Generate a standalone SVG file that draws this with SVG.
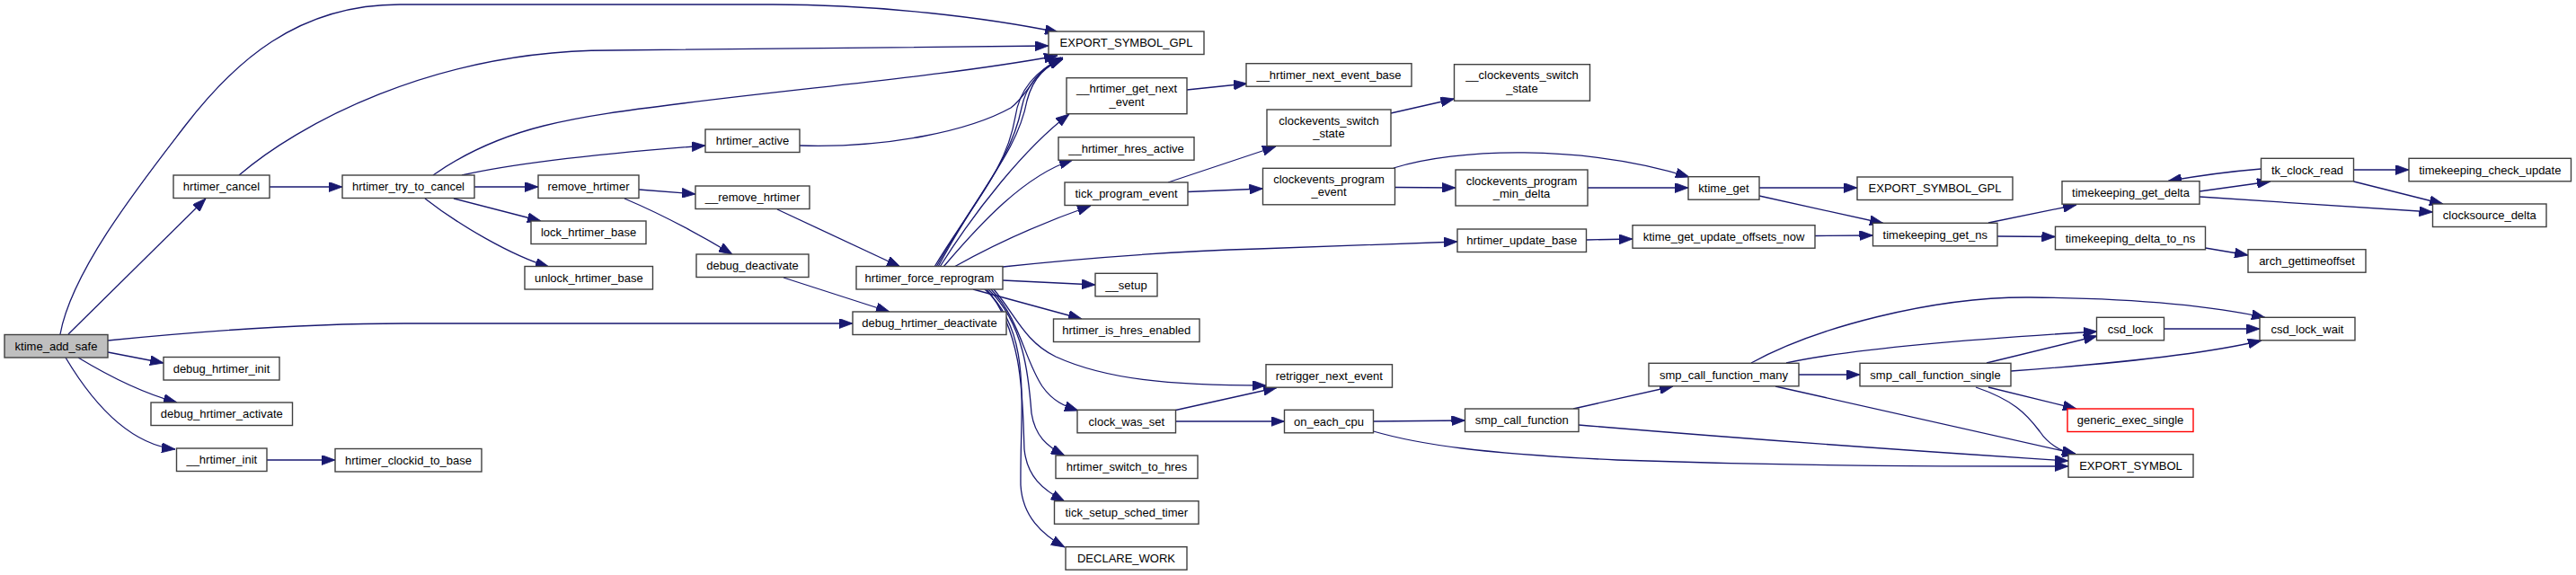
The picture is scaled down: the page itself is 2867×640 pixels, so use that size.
<svg xmlns="http://www.w3.org/2000/svg" width="2867" height="640" viewBox="0 0 2867 640">
<defs>
<style>
.node rect{fill:#ffffff;stroke:#404040;stroke-width:1.4}
.node text{font-family:"Liberation Sans",Arial,Helvetica,sans-serif;font-size:13px;text-anchor:middle;fill:#000000}
#n_ktime_add_safe rect{fill:#bfbfbf}
#n_generic_exec_single rect{stroke:#ff0000}
.edges path{fill:none;stroke:#191970;stroke-width:1.3;marker-end:url(#ah)}
</style>
<marker id="ah" viewBox="0 0 15 11" refX="15" refY="5.5" markerWidth="15" markerHeight="11" markerUnits="userSpaceOnUse" orient="auto">
<path d="M0,0 L15,5.5 L0,11 z" fill="#191970" stroke="#191970" stroke-width="0.8"/>
</marker>
</defs>
<rect x="0" y="0" width="2867" height="640" fill="#ffffff"/>
<g id="edges" class="edges">
<path d="M67,372 C80,300 160,200 206,140 C260,70 330,5 445,5 L860,5 C980,5 1100,20 1178,36"/>
<path d="M76,372 L229,221"/>
<path d="M120,379 C250,366 350,360 450,360 L949,360"/>
<path d="M120,392 L182,404"/>
<path d="M87,398 C120,418 160,438 197,448"/>
<path d="M73,398 C110,460 150,495 195,500"/>
<path d="M297,512 L373,512"/>
<path d="M300,208 L381,208"/>
<path d="M266,195 C330,140 480,56 680,56 C900,55 1050,52 1167,51"/>
<path d="M482,195 C560,140 640,130 760,115 C900,97 1050,85 1177,62"/>
<path d="M514,195 C580,180 680,170 785,162"/>
<path d="M528,208 L599,208"/>
<path d="M505,221 L602,246"/>
<path d="M473,221 C510,250 570,285 611,297"/>
<path d="M890,162 C990,165 1080,145 1125,120 C1145,105 1150,80 1181,64"/>
<path d="M711,211 L774,216"/>
<path d="M695,221 C740,240 780,262 815,283"/>
<path d="M865,233 L1002,297"/>
<path d="M872,309 L990,347"/>
<path d="M1040,297 C1080,230 1120,190 1130,130 C1135,95 1160,75 1183,64"/>
<path d="M1042,297 C1085,220 1125,180 1137,120 C1143,90 1163,74 1183,65"/>
<path d="M1044,297 C1090,210 1132,170 1143,112 C1150,85 1165,73 1183,66"/>
<path d="M1046,297 C1085,235 1140,165 1190,127"/>
<path d="M1050,297 C1090,250 1140,195 1194,178"/>
<path d="M1062,297 C1110,270 1160,248 1214,229"/>
<path d="M1116,297 C1200,288 1300,280 1400,277 L1622,269"/>
<path d="M1116,312 L1219,317"/>
<path d="M1083,322 L1204,355"/>
<path d="M1106,322 C1130,350 1140,380 1175,397 C1230,422 1300,429 1409,429"/>
<path d="M1103,322 C1135,355 1140,400 1160,430 C1172,447 1185,452 1200,457"/>
<path d="M1100,322 C1140,360 1145,420 1148,460 C1152,485 1165,497 1185,507"/>
<path d="M1098,322 C1140,370 1138,450 1140,500 C1143,530 1160,545 1185,558"/>
<path d="M1096,322 C1150,370 1135,450 1136,540 C1138,575 1160,595 1185,609"/>
<path d="M1321,100 L1388,93"/>
<path d="M1300,203 L1420,163"/>
<path d="M1322,213.5 L1405.5,210"/>
<path d="M1548,126 L1618.5,110"/>
<path d="M1552.5,208.5 L1620,209"/>
<path d="M1551,187 C1620,165 1760,160 1880,197"/>
<path d="M1767,209 L1879,209"/>
<path d="M1958,209 L2067,209"/>
<path d="M1958,218 L2096,248.5"/>
<path d="M1765.5,267 L1817,266"/>
<path d="M2020,262.5 L2084.5,262"/>
<path d="M2213,248 L2311,228"/>
<path d="M2223,263 L2287.5,263.5"/>
<path d="M2454.5,276 L2502,284"/>
<path d="M2448,213 L2527,202"/>
<path d="M2516.5,188 C2480,191 2450,195 2413,201.5"/>
<path d="M2619.5,189 L2681,189"/>
<path d="M2619.5,202 L2719,227"/>
<path d="M2448,219 C2550,226 2650,233 2707.5,236"/>
<path d="M1308.5,456.5 L1421,431.5"/>
<path d="M1308.5,469 L1429.5,469"/>
<path d="M1528.5,469 L1630.5,468"/>
<path d="M1528.5,480 C1580,495 1650,505 1800,512 C2000,519 2150,519 2302,519"/>
<path d="M1751,455 L1862,430"/>
<path d="M1757,473 C1900,485 2100,500 2302,513"/>
<path d="M2002,417 L2070,417"/>
<path d="M1949,404 C2020,365 2150,330 2260,331 C2380,332 2460,340 2521,353.5"/>
<path d="M1988,404 C2060,388 2200,377 2334,369"/>
<path d="M1976,430 L2310,505"/>
<path d="M2211,404 L2334,374"/>
<path d="M2238,413 C2350,405 2450,395 2517,379"/>
<path d="M2213,431 L2311,455"/>
<path d="M2199,431 C2240,445 2255,460 2270,480 C2280,495 2295,503 2311,506"/>
<path d="M2408.5,366 L2515,366"/>
</g>
<g id="n_ktime_add_safe" class="node"><rect x="5" y="372.5" width="115" height="25.5"/><text x="62.5" y="389.8">ktime_add_safe</text></g>
<g id="n_hrtimer_cancel" class="node"><rect x="193" y="195" width="107" height="25.5"/><text x="246.5" y="212.3">hrtimer_cancel</text></g>
<g id="n_hrtimer_try_to_cancel" class="node"><rect x="381" y="195" width="147" height="25.5"/><text x="454.5" y="212.3">hrtimer_try_to_cancel</text></g>
<g id="n_remove_hrtimer" class="node"><rect x="599" y="195" width="112" height="25.5"/><text x="655" y="212.3">remove_hrtimer</text></g>
<g id="n_lock_hrtimer_base" class="node"><rect x="591" y="246" width="128" height="25.5"/><text x="655" y="263.3">lock_hrtimer_base</text></g>
<g id="n_unlock_hrtimer_base" class="node"><rect x="584" y="296.5" width="142.5" height="25.5"/><text x="655.3" y="313.8">unlock_hrtimer_base</text></g>
<g id="n_debug_hrtimer_init" class="node"><rect x="182" y="397.5" width="129" height="25.5"/><text x="246.5" y="414.8">debug_hrtimer_init</text></g>
<g id="n_debug_hrtimer_activate" class="node"><rect x="168" y="448" width="157.5" height="25.5"/><text x="246.8" y="465.3">debug_hrtimer_activate</text></g>
<g id="n___hrtimer_init" class="node"><rect x="196.5" y="499" width="100.5" height="25.5"/><text x="246.8" y="516.3">__hrtimer_init</text></g>
<g id="n_hrtimer_clockid_to_base" class="node"><rect x="373" y="499.5" width="163" height="25.5"/><text x="454.5" y="516.8">hrtimer_clockid_to_base</text></g>
<g id="n_export_symbol_gpl" class="node"><rect x="1167" y="35" width="173" height="25.5"/><text x="1253.5" y="52.3">EXPORT_SYMBOL_GPL</text></g>
<g id="n_hrtimer_active" class="node"><rect x="785" y="144" width="105" height="25.5"/><text x="837.5" y="161.3">hrtimer_active</text></g>
<g id="n___remove_hrtimer" class="node"><rect x="774" y="207" width="127" height="25.5"/><text x="837.5" y="224.3">__remove_hrtimer</text></g>
<g id="n_debug_deactivate" class="node"><rect x="775" y="283" width="125" height="25.5"/><text x="837.5" y="300.3">debug_deactivate</text></g>
<g id="n_hrtimer_force_reprogram" class="node"><rect x="953" y="296.5" width="163" height="25.5"/><text x="1034.5" y="313.8">hrtimer_force_reprogram</text></g>
<g id="n_debug_hrtimer_deactivate" class="node"><rect x="949" y="347" width="171" height="25.5"/><text x="1034.5" y="364.3">debug_hrtimer_deactivate</text></g>
<g id="n___hrtimer_get_next_event" class="node"><rect x="1187" y="86.7" width="134" height="40"/><text x="1254" y="103.2">__hrtimer_get_next</text><text x="1254" y="117.7">_event</text></g>
<g id="n___hrtimer_hres_active" class="node"><rect x="1178" y="152.7" width="151" height="25.5"/><text x="1253.5" y="170">__hrtimer_hres_active</text></g>
<g id="n_tick_program_event" class="node"><rect x="1185" y="203" width="137" height="25.5"/><text x="1253.5" y="220.3">tick_program_event</text></g>
<g id="n___setup" class="node"><rect x="1219" y="304.3" width="69" height="25.5"/><text x="1253.5" y="321.6">__setup</text></g>
<g id="n_hrtimer_is_hres_enabled" class="node"><rect x="1172.5" y="355" width="162.5" height="25.5"/><text x="1253.8" y="372.3">hrtimer_is_hres_enabled</text></g>
<g id="n_clock_was_set" class="node"><rect x="1199" y="456.3" width="109.5" height="25.5"/><text x="1253.8" y="473.6">clock_was_set</text></g>
<g id="n_hrtimer_switch_to_hres" class="node"><rect x="1175" y="507" width="158" height="25.5"/><text x="1254" y="524.3">hrtimer_switch_to_hres</text></g>
<g id="n_tick_setup_sched_timer" class="node"><rect x="1173.5" y="557.7" width="160.5" height="25.5"/><text x="1253.8" y="575">tick_setup_sched_timer</text></g>
<g id="n_declare_work" class="node"><rect x="1186" y="608.7" width="135" height="25.5"/><text x="1253.5" y="626">DECLARE_WORK</text></g>
<g id="n___hrtimer_next_event_base" class="node"><rect x="1387" y="70.7" width="184" height="25.5"/><text x="1479" y="88">__hrtimer_next_event_base</text></g>
<g id="n___clockevents_switch_state" class="node"><rect x="1618.5" y="71.7" width="151" height="40.5"/><text x="1694" y="88.2">__clockevents_switch</text><text x="1694" y="102.7">_state</text></g>
<g id="n_clockevents_switch_state" class="node"><rect x="1410" y="122" width="138" height="40.5"/><text x="1479" y="138.5">clockevents_switch</text><text x="1479" y="153">_state</text></g>
<g id="n_clockevents_program_event" class="node"><rect x="1405.5" y="187.3" width="147" height="40.5"/><text x="1479" y="203.8">clockevents_program</text><text x="1479" y="218.3">_event</text></g>
<g id="n_clockevents_program_min_delta" class="node"><rect x="1620" y="189" width="147" height="40"/><text x="1693.5" y="205.5">clockevents_program</text><text x="1693.5" y="220">_min_delta</text></g>
<g id="n_hrtimer_update_base" class="node"><rect x="1622" y="255" width="143.5" height="25.5"/><text x="1693.8" y="272.3">hrtimer_update_base</text></g>
<g id="n_retrigger_next_event" class="node"><rect x="1409" y="405.7" width="140.5" height="25.5"/><text x="1479.3" y="423">retrigger_next_event</text></g>
<g id="n_on_each_cpu" class="node"><rect x="1429.5" y="456.3" width="99" height="25.5"/><text x="1479" y="473.6">on_each_cpu</text></g>
<g id="n_smp_call_function" class="node"><rect x="1630.5" y="455" width="126.5" height="25.5"/><text x="1693.8" y="472.3">smp_call_function</text></g>
<g id="n_ktime_get" class="node"><rect x="1879" y="196.7" width="79" height="25.5"/><text x="1918.5" y="214">ktime_get</text></g>
<g id="n_ktime_get_update_offsets_now" class="node"><rect x="1817" y="250.7" width="203" height="25.5"/><text x="1918.5" y="268">ktime_get_update_offsets_now</text></g>
<g id="n_smp_call_function_many" class="node"><rect x="1835" y="404.3" width="167" height="25.5"/><text x="1918.5" y="421.6">smp_call_function_many</text></g>
<g id="n_export_symbol_gpl_2" class="node"><rect x="2067" y="197" width="173" height="25.5"/><text x="2153.5" y="214.3">EXPORT_SYMBOL_GPL</text></g>
<g id="n_timekeeping_get_ns" class="node"><rect x="2084.5" y="248.3" width="138.5" height="25.5"/><text x="2153.8" y="265.6">timekeeping_get_ns</text></g>
<g id="n_smp_call_function_single" class="node"><rect x="2070" y="404.3" width="168" height="25.5"/><text x="2154" y="421.6">smp_call_function_single</text></g>
<g id="n_timekeeping_get_delta" class="node"><rect x="2295" y="201.7" width="153" height="25.5"/><text x="2371.5" y="219">timekeeping_get_delta</text></g>
<g id="n_timekeeping_delta_to_ns" class="node"><rect x="2287.5" y="252.3" width="167" height="25.5"/><text x="2371" y="269.6">timekeeping_delta_to_ns</text></g>
<g id="n_csd_lock" class="node"><rect x="2333.5" y="353.3" width="75" height="25.5"/><text x="2371" y="370.6">csd_lock</text></g>
<g id="n_generic_exec_single" class="node"><rect x="2301" y="455" width="140" height="25.5"/><text x="2371" y="472.3">generic_exec_single</text></g>
<g id="n_export_symbol" class="node"><rect x="2302" y="505.7" width="139" height="25.5"/><text x="2371.5" y="523">EXPORT_SYMBOL</text></g>
<g id="n_tk_clock_read" class="node"><rect x="2516.5" y="176.3" width="103" height="25.5"/><text x="2568" y="193.6">tk_clock_read</text></g>
<g id="n_arch_gettimeoffset" class="node"><rect x="2502" y="277.7" width="131" height="25.5"/><text x="2567.5" y="295">arch_gettimeoffset</text></g>
<g id="n_csd_lock_wait" class="node"><rect x="2515" y="353.3" width="106" height="25.5"/><text x="2568" y="370.6">csd_lock_wait</text></g>
<g id="n_timekeeping_check_update" class="node"><rect x="2681" y="176.3" width="180.5" height="25.5"/><text x="2771.3" y="193.6">timekeeping_check_update</text></g>
<g id="n_clocksource_delta" class="node"><rect x="2707.5" y="227" width="126.5" height="25.5"/><text x="2770.8" y="244.3">clocksource_delta</text></g>
</svg>
